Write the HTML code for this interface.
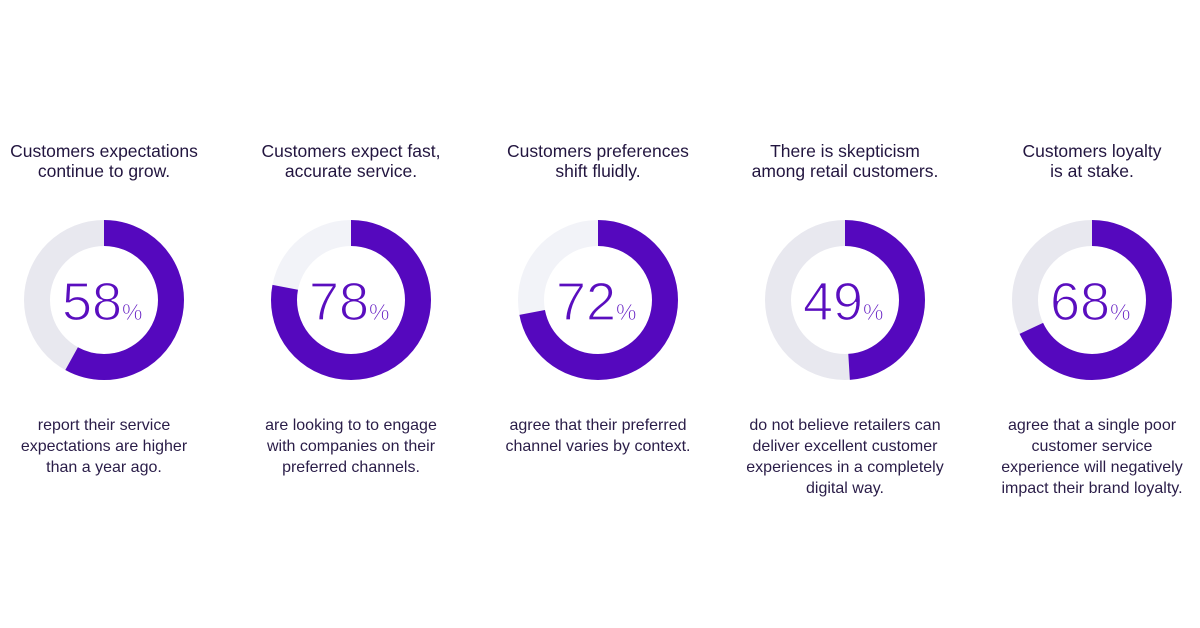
<!DOCTYPE html>
<html><head><meta charset="utf-8"><style>
body{margin:0;width:1200px;height:628px;background:#fff;position:relative;overflow:hidden;font-family:"Liberation Sans",sans-serif;color:#22153f}
.t{position:absolute;width:260px;text-align:center;font-size:17.5px;line-height:20px;top:141px}
.b{position:absolute;width:260px;text-align:center;font-size:16px;line-height:21px;top:415px;color:#2a1d48}
svg{position:absolute;top:0;left:0}
.n{stroke:#fff;stroke-width:1.3px}
</style></head><body>
<svg width="1200" height="628">
<g font-family="Liberation Sans, sans-serif" fill="#5a0ebf">
<g transform="translate(104,300)">
<circle r="67" fill="none" stroke="#e8e8ef" stroke-width="26"/>
<circle r="67" fill="none" stroke="#5508be" stroke-width="26" stroke-dasharray="244.2 1000" transform="rotate(-90)"/>
<text class="n" x="-12" y="20" text-anchor="middle" font-size="54">58</text><text class="n" x="18" y="20" font-size="23" style="stroke-width:.7px">%</text>
</g>
<g transform="translate(351,300)">
<circle r="67" fill="none" stroke="#f2f3f8" stroke-width="26"/>
<circle r="67" fill="none" stroke="#5508be" stroke-width="26" stroke-dasharray="328.4 1000" transform="rotate(-90)"/>
<text class="n" x="-12" y="20" text-anchor="middle" font-size="54">78</text><text class="n" x="18" y="20" font-size="23" style="stroke-width:.7px">%</text>
</g>
<g transform="translate(598,300)">
<circle r="67" fill="none" stroke="#f2f3f8" stroke-width="26"/>
<circle r="67" fill="none" stroke="#5508be" stroke-width="26" stroke-dasharray="303.1 1000" transform="rotate(-90)"/>
<text class="n" x="-12" y="20" text-anchor="middle" font-size="54">72</text><text class="n" x="18" y="20" font-size="23" style="stroke-width:.7px">%</text>
</g>
<g transform="translate(845,300)">
<circle r="67" fill="none" stroke="#e8e8ef" stroke-width="26"/>
<circle r="67" fill="none" stroke="#5508be" stroke-width="26" stroke-dasharray="206.3 1000" transform="rotate(-90)"/>
<text class="n" x="-12" y="20" text-anchor="middle" font-size="54">49</text><text class="n" x="18" y="20" font-size="23" style="stroke-width:.7px">%</text>
</g>
<g transform="translate(1092,300)">
<circle r="67" fill="none" stroke="#e8e8ef" stroke-width="26"/>
<circle r="67" fill="none" stroke="#5508be" stroke-width="26" stroke-dasharray="286.3 1000" transform="rotate(-90)"/>
<text class="n" x="-12" y="20" text-anchor="middle" font-size="54">68</text><text class="n" x="18" y="20" font-size="23" style="stroke-width:.7px">%</text>
</g>
</g>
</svg>
<div class="t" style="left:-26px">Customers expectations<br>continue to grow.</div>
<div class="t" style="left:221px">Customers expect fast,<br>accurate service.</div>
<div class="t" style="left:468px">Customers preferences<br>shift fluidly.</div>
<div class="t" style="left:715px">There is skepticism<br>among retail customers.</div>
<div class="t" style="left:962px">Customers loyalty<br>is at stake.</div>
<div class="b" style="left:-26px">report their service<br>expectations are higher<br>than a year ago.</div>
<div class="b" style="left:221px">are looking to to engage<br>with companies on their<br>preferred channels.</div>
<div class="b" style="left:468px">agree that their preferred<br>channel varies by context.</div>
<div class="b" style="left:715px">do not believe retailers can<br>deliver excellent customer<br>experiences in a completely<br>digital way.</div>
<div class="b" style="left:962px">agree that a single poor<br>customer service<br>experience will negatively<br>impact their brand loyalty.</div>
</body></html>
